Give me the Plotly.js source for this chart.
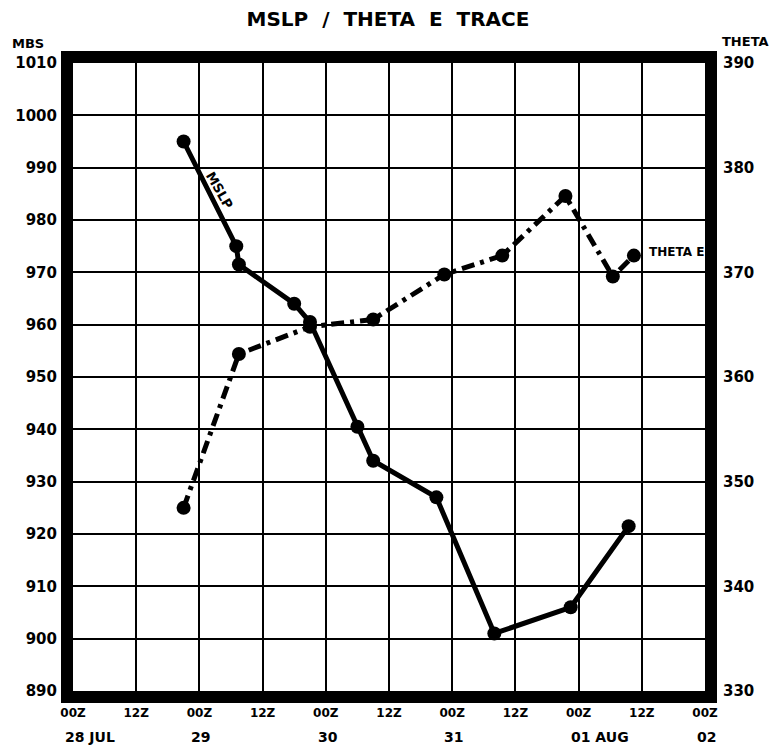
<!DOCTYPE html>
<html>
<head>
<meta charset="utf-8">
<script src="https://cdn.plot.ly/plotly-3.0.1.min.js"></script>
<style>html,body{margin:0;padding:0;background:#fff;}#chart{width:773px;height:752px;}</style>
</head>
<body>
<div id="chart"></div>
<script>
// Hours after 28 JUL 00Z
const mslpHours = [21, 31, 31.5, 42, 45, 54, 57, 69, 80, 94.5, 105.5];
const mslpValues = [995, 975, 971.5, 964, 960.5, 940.5, 934, 927, 901, 906, 921.5];
const thetaHours = [21, 31.5, 45, 57, 70.5, 81.5, 93.5, 102.5, 106.5];
const thetaValues = [347.5, 362.2, 364.8, 365.5, 369.8, 371.6, 377.3, 369.6, 371.6];

const timeTickVals = [0, 12, 24, 36, 48, 60, 72, 84, 96, 108, 120];
const timeTickText = ["00Z","12Z","00Z","12Z","00Z","12Z","00Z","12Z","00Z","12Z","00Z"];
const dateTickVals = [0, 24, 48, 72, 96, 120];
const dateTickText = ["28 JUL", "29", "30", "31", "01 AUG", "02"];

const FONT = "DejaVu Sans, Arial, sans-serif";
const W = 632, H = 628;
const S2 = '\u00A0\u00A0';

const traces = [
  {
    x: mslpHours, y: mslpValues, yaxis: 'y', type: 'scatter', mode: 'lines+markers',
    line: {color: '#000', width: 5}, marker: {color: '#000', size: 14},
    hoverinfo: 'skip', showlegend: false
  },
  {
    x: thetaHours, y: thetaValues, yaxis: 'y2', type: 'scatter', mode: 'lines+markers',
    line: {color: '#000', width: 5, dash: '13px,6px,4px,6px'}, marker: {color: '#000', size: 14},
    hoverinfo: 'skip', showlegend: false
  }
];

const annotations = dateTickVals.map((v, i) => ({
  x: v, xref: 'x', y: -0.0732, yref: 'paper', text: dateTickText[i],
  xanchor: 'left', yanchor: 'middle', xshift: -10, showarrow: false,
  font: {family: FONT, size: 14, color: '#000', weight: 'bold'}
}));
annotations.push(
  {x: 27.8, xref: 'x', y: 985.6, yref: 'y', text: 'MSLP', textangle: 60, showarrow: false,
   xanchor: 'center', yanchor: 'middle', font: {family: FONT, size: 13, color: '#000', weight: 'bold'}},
  {x: 109, xref: 'x', y: 371.9, yref: 'y2', text: 'THETA E', showarrow: false,
   xanchor: 'left', yanchor: 'middle', font: {family: FONT, size: 12, color: '#000', weight: 'bold'}},
  {x: (10 - 73) / W, xref: 'paper', y: 1 + (63 - 43) / H, yref: 'paper', text: 'MBS', showarrow: false,
   xanchor: 'left', yanchor: 'middle', font: {family: FONT, size: 13, color: '#000', weight: 'bold'}},
  {x: (720 - 73) / W, xref: 'paper', y: 1 + (63 - 42) / H, yref: 'paper', text: 'THETA', showarrow: false,
   xanchor: 'left', yanchor: 'middle', font: {family: FONT, size: 13, color: '#000', weight: 'bold'}}
);

const layout = {
  width: 773, height: 752,
  margin: {l: 73, r: 68, t: 63, b: 61, pad: 0},
  paper_bgcolor: '#fff', plot_bgcolor: '#fff',
  title: {
    text: 'MSLP' + S2 + '/' + S2 + 'THETA' + S2 + 'E' + S2 + 'TRACE',
    x: (388 / 773), xanchor: 'center', y: 1 - 19 / 752, yanchor: 'middle',
    font: {family: FONT, size: 20, color: '#000', weight: 'bold'}
  },
  xaxis: {
    range: [0, 120], tickmode: 'array', tickvals: timeTickVals, ticktext: timeTickText,
    showgrid: true, gridcolor: '#000', gridwidth: 2, zeroline: false, showline: false,
    ticks: '', ticklabelstandoff: 13,
    tickfont: {family: FONT, size: 12, color: '#000', weight: 'bold'}, fixedrange: true
  },
  yaxis: {
    range: [890, 1010], dtick: 10, tick0: 890,
    showgrid: true, gridcolor: '#000', gridwidth: 2, zeroline: false, showline: false,
    ticks: '', ticklabelstandoff: 15,
    tickfont: {family: FONT, size: 15, color: '#000', weight: 'bold'}, fixedrange: true
  },
  yaxis2: {
    range: [330, 390], dtick: 10, tick0: 330, overlaying: 'y', side: 'right',
    showgrid: false, zeroline: false, showline: false, ticks: '', ticklabelstandoff: 17,
    tickfont: {family: FONT, size: 15, color: '#000', weight: 'bold'}, fixedrange: true
  },
  shapes: [{
    type: 'rect', xref: 'paper', yref: 'paper',
    x0: -6 / W, x1: 1 + 6 / W, y0: -6 / H, y1: 1 + 6 / H,
    line: {color: '#000', width: 12}, fillcolor: 'rgba(0,0,0,0)', layer: 'above'
  }],
  annotations: annotations
};

Plotly.newPlot('chart', traces, layout, {staticPlot: true, displayModeBar: false});
</script>
</body>
</html>
